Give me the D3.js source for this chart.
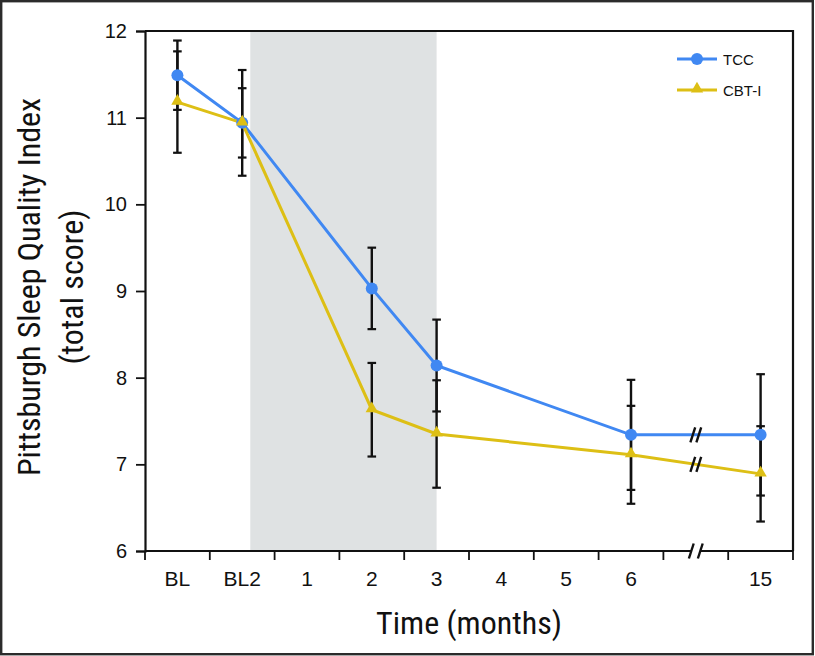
<!DOCTYPE html>
<html>
<head>
<meta charset="utf-8">
<script src="https://cdn.jsdelivr.net/npm/d3@7/dist/d3.min.js"></script>
<style>
  html, body { margin: 0; padding: 0; background: #fff; }
  svg { display: block; }
  .narrow { font-family: "Liberation Sans Narrow", "Roboto Condensed", "DejaVu Sans Condensed", "Liberation Sans", sans-serif; }
  .reg { font-family: "Liberation Sans", Arial, Helvetica, sans-serif; }
</style>
</head>
<body>
<script>
// ---------------- data ----------------
const categories = ["BL", "BL2", "1", "2", "3", "4", "5", "6", "break", "15"];
const tickLabels = ["BL", "BL2", "1", "2", "3", "4", "5", "6", "", "15"];
const timepoints = ["BL", "BL2", "2", "3", "6", "15"];
const tccMean = [11.49, 10.94, 9.03, 8.14, 7.34, 7.34];
const tccErr  = [0.40, 0.40, 0.47, 0.53, 0.635, 0.70];
const cbtMean = [11.18, 10.94, 7.63, 7.35, 7.11, 6.89];
const cbtErr  = [0.585, 0.61, 0.54, 0.62, 0.565, 0.55];
const yTicks = [6, 7, 8, 9, 10, 11, 12];
const seriesNames = ["TCC", "CBT-I"];
const shadeFrom = "BL2", shadeFromOffset = 0.125, shadeTo = "3";
const breakSlot = "break";

// ---------------- layout ----------------
const W = 815, H = 656;
const pL = 145, pR = 793, pT = 31, pB = 551;
const blue = "#4088f2", yellow = "#ddbf15";

const svg = d3.select("body").append("svg").attr("width", W).attr("height", H);

// figure frame
svg.append("rect").attr("x", 1.2).attr("y", 1.2).attr("width", W - 3.4).attr("height", H - 3)
  .attr("fill", "none").attr("stroke", "#2b2b2b").attr("stroke-width", 2.4);

const x = d3.scaleBand().domain(categories).range([pL, pR]).paddingInner(0).paddingOuter(0);
const bw = x.bandwidth();
const cx = c => x(c) + bw / 2;
const y = d3.scaleLinear().domain([6, 12]).range([pB, pT]);

// shaded intervention period
svg.append("rect")
  .attr("x", cx(shadeFrom) + shadeFromOffset * bw)
  .attr("y", y(12))
  .attr("width", cx(shadeTo) - (cx(shadeFrom) + shadeFromOffset * bw))
  .attr("height", y(6) - y(12))
  .attr("fill", "#dfe2e3");

// plot box (top and right)
svg.append("path")
  .attr("d", `M${pL},${y(12)}H${pR}V${y(6)}`)
  .attr("fill", "none").attr("stroke", "#111").attr("stroke-width", 2.2);

// y axis
const yAxis = d3.axisLeft(y).tickValues(yTicks).tickSize(9).tickPadding(9).tickFormat(d3.format("d"));
const gy = svg.append("g").attr("transform", `translate(${pL},0)`).call(yAxis);
gy.select(".domain").attr("stroke", "#111").attr("stroke-width", 2.2);
gy.selectAll(".tick line").attr("stroke", "#111").attr("stroke-width", 1.8);
gy.selectAll(".tick text").attr("class", "reg").attr("font-size", 20).attr("fill", "#111");

// x axis
const xAxis = d3.axisBottom(x).tickSize(0).tickPadding(20).tickFormat((d, i) => tickLabels[i]);
const gx = svg.append("g").attr("transform", `translate(0,${pB})`).call(xAxis);
gx.select(".domain").remove();
gx.selectAll(".tick text").attr("class", "reg").attr("font-size", 21).attr("fill", "#111").attr("dy", "0.71em");
svg.append("line").attr("x1", pL).attr("x2", pR).attr("y1", pB).attr("y2", pB)
  .attr("stroke", "#111").attr("stroke-width", 2.2);
// boundary ticks
const bounds = categories.map(c => x(c)).concat([pR]);
svg.append("g").selectAll("line").data(bounds).join("line")
  .attr("x1", d => d).attr("x2", d => d).attr("y1", pB).attr("y2", pB + 9)
  .attr("stroke", "#111").attr("stroke-width", 1.8);

// break mark helper
function breakMark(px, py, gap, withWhite) {
  const g = svg.append("g");
  const dx = 2.4, dy = 7.5;
  if (withWhite) {
    g.append("polygon")
      .attr("points", [[px - gap/2 - dx, py + dy], [px - gap/2 + dx, py - dy], [px + gap/2 + dx, py - dy], [px + gap/2 - dx, py + dy]].map(p => p.join(",")).join(" "))
      .attr("fill", "#fff");
  }
  [-gap/2, gap/2].forEach(o => {
    g.append("line").attr("x1", px + o - dx).attr("y1", py + dy).attr("x2", px + o + dx).attr("y2", py - dy)
      .attr("stroke", "#111").attr("stroke-width", 2.4);
  });
}
breakMark(cx(breakSlot), pB, 9, true);

// series
const tcc = timepoints.map((t, i) => ({ t, v: tccMean[i], e: tccErr[i] }));
const cbt = timepoints.map((t, i) => ({ t, v: cbtMean[i], e: cbtErr[i] }));
const series = [
  { name: seriesNames[0], data: tcc, color: blue, shape: "circle" },
  { name: seriesNames[1], data: cbt, color: yellow, shape: "triangle" }
];

// error bars
const capW = 4.3;
series.forEach(s => {
  const g = svg.append("g");
  s.data.forEach(d => {
    const px = cx(d.t);
    g.append("line").attr("x1", px).attr("x2", px).attr("y1", y(d.v + d.e)).attr("y2", y(d.v - d.e))
      .attr("stroke", "#111").attr("stroke-width", 2.4);
    [d.v + d.e, d.v - d.e].forEach(v => {
      g.append("line").attr("x1", px - capW).attr("x2", px + capW).attr("y1", y(v)).attr("y2", y(v))
        .attr("stroke", "#111").attr("stroke-width", 2.2);
    });
  });
});

// lines
const line = d3.line().x(d => cx(d.t)).y(d => y(d.v));
series.forEach(s => {
  svg.append("path").datum(s.data).attr("d", line)
    .attr("fill", "none").attr("stroke", s.color).attr("stroke-width", 3);
});

// line break marks in the gap slot
series.forEach(s => {
  const a = s.data[s.data.length - 2], b = s.data[s.data.length - 1];
  const xa = cx(a.t), xb = cx(b.t), xm = cx(breakSlot);
  const ym = y(a.v) + (y(b.v) - y(a.v)) * (xm - xa) / (xb - xa);
  breakMark(xm, ym, 6, false);
});

// markers
const tri = d3.symbol().type(d3.symbolTriangle).size(66);
series.forEach(s => {
  const g = svg.append("g");
  if (s.shape === "circle") {
    g.selectAll("circle").data(s.data).join("circle")
      .attr("cx", d => cx(d.t)).attr("cy", d => y(d.v)).attr("r", 6).attr("fill", s.color);
  } else {
    g.selectAll("path").data(s.data).join("path")
      .attr("d", tri).attr("transform", d => `translate(${cx(d.t)},${y(d.v) - 1})`).attr("fill", s.color);
  }
});

// legend
const legend = svg.append("g");
series.forEach((s, i) => {
  const ly = 59 + i * 31;
  legend.append("line").attr("x1", 677).attr("x2", 717).attr("y1", ly).attr("y2", ly)
    .attr("stroke", s.color).attr("stroke-width", 3);
  if (s.shape === "circle") {
    legend.append("circle").attr("cx", 697).attr("cy", ly).attr("r", 6).attr("fill", s.color);
  } else {
    legend.append("path").attr("d", tri).attr("transform", `translate(697,${ly - 1})`).attr("fill", s.color);
  }
  legend.append("text").attr("class", "reg").attr("x", 723).attr("y", ly + 5.5)
    .attr("font-size", 15).attr("fill", "#111").text(s.name);
});

// axis titles
svg.append("text").attr("class", "narrow")
  .attr("transform", `translate(${(pL + pR) / 2},634)`)
  .attr("text-anchor", "middle").attr("font-size", 32).attr("fill", "#111")
  .text("Time (months)");
const yt = svg.append("g").attr("transform", `translate(0,${(pT + pB) / 2 - 4}) rotate(-90)`);
yt.append("text").attr("class", "narrow").attr("x", 0).attr("y", 40)
  .attr("text-anchor", "middle").attr("font-size", 32).attr("fill", "#111")
  .text("Pittsburgh Sleep Quality Index");
yt.append("text").attr("class", "narrow").attr("x", 0).attr("y", 83)
  .attr("text-anchor", "middle").attr("font-size", 32).attr("fill", "#111")
  .text("(total score)");
</script>
</body>
</html>
